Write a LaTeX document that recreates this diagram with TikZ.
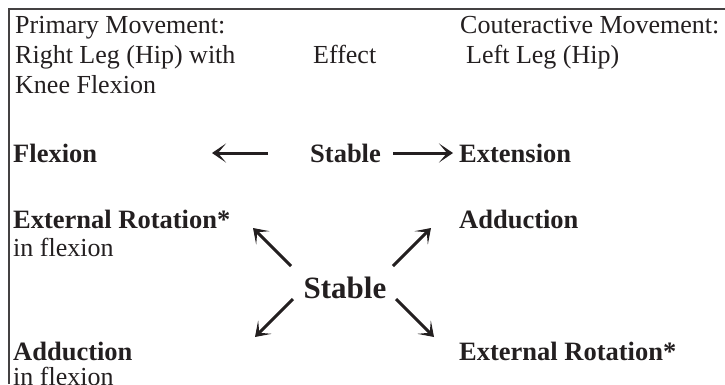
\documentclass[tikz,border=0pt]{standalone}
\usepackage{fontspec}
\setmainfont{Liberation Serif}
\usetikzlibrary{arrows.meta}
\definecolor{ink}{HTML}{231F20}
\begin{document}
\begin{tikzpicture}[x=1pt, y=-1pt, >={Stealth[length=14pt,width=19pt,inset=8pt]},
    txt/.style={anchor=base west, inner sep=0pt, text=ink, font=\fontsize{26}{29}\selectfont},
    bold/.style={txt, font=\fontsize{26.5}{29}\selectfont\bfseries},
    move/.style={->, ink, line width=3pt}]
  \useasboundingbox (0,0) rectangle (725,384);
  \draw[ink!85, line width=1.2pt] (9,384) -- (9,9) -- (725,9);
  % heading
  \node[txt] (prim) at (15,33) {Primary Movement:};
  \node[txt] (right) at (15,63) {Right Leg (Hip) with};
  \node[txt] (knee) at (15,93) {Knee Flexion};
  \node[txt] (effect) at (313,63) {Effect};
  \node[txt] (counter) at (460,33) {Couteractive Movement:};
  \node[txt] (left) at (466,63) {Left Leg (Hip)};
  % first row
  \node[bold] (flex) at (13,162) {Flexion};
  \node[bold] (stabA) at (310,162) {Stable};
  \node[bold] (ext) at (459,162) {Extension};
  \coordinate (flexTail) at (268,153);
  \coordinate (flexTip) at (212,153);
  \coordinate (extTail) at (393,153);
  \coordinate (extTip) at (453,153);
  \draw[move] (flexTail) -- (flexTip);
  \draw[move] (extTail) -- (extTip);
  % cross
  \node[bold] (rotA) at (13,228) {External Rotation*};
  \node[txt] (inflexA) at (13,256) {in flexion};
  \node[bold] (addA) at (459,228) {Adduction};
  \node[bold, anchor=center, font=\fontsize{31}{34}\selectfont\bfseries] (stabB) at (345,288) {Stable};
  \node[bold] (addB) at (13,360) {Adduction};
  \node[txt] (inflexB) at (13,385) {in flexion};
  \node[bold] (rotB) at (459,360) {External Rotation*};
  \coordinate (ulTail) at (291,266);
  \coordinate (ulTip) at (253,228);
  \coordinate (urTail) at (393,266);
  \coordinate (urTip) at (431,228);
  \coordinate (dlTail) at (293,299);
  \coordinate (dlTip) at (255,337);
  \coordinate (drTail) at (396,299);
  \coordinate (drTip) at (434,337);
  \draw[move] (ulTail) -- (ulTip);
  \draw[move] (urTail) -- (urTip);
  \draw[move] (dlTail) -- (dlTip);
  \draw[move] (drTail) -- (drTip);
\end{tikzpicture}
\end{document}
